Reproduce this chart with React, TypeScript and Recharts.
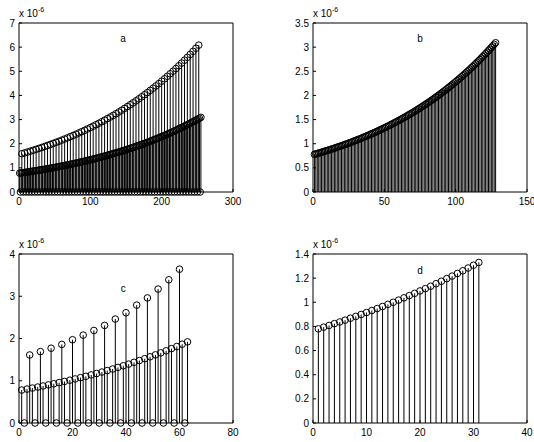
import React from 'react';
import { ScatterChart, Scatter, XAxis, YAxis, ErrorBar, ReferenceDot } from 'recharts';

const FONT = '"Liberation Sans", Arial, Helvetica, sans-serif';

// values are in units of 1e-6
const B_VALUES = [
  0.780, 0.789, 0.797, 0.806, 0.815, 0.824, 0.832, 0.842, 0.851, 0.860,
  0.869, 0.879, 0.888, 0.898, 0.908, 0.918, 0.928, 0.938, 0.948, 0.958,
  0.969, 0.980, 0.990, 1.001, 1.012, 1.023, 1.034, 1.045, 1.057, 1.068,
  1.080, 1.092, 1.104, 1.116, 1.128, 1.140, 1.153, 1.165, 1.178, 1.191,
  1.204, 1.217, 1.230, 1.243, 1.257, 1.271, 1.285, 1.299, 1.313, 1.327,
  1.341, 1.356, 1.371, 1.386, 1.401, 1.416, 1.432, 1.447, 1.463, 1.479,
  1.495, 1.511, 1.528, 1.544, 1.561, 1.578, 1.596, 1.613, 1.631, 1.648,
  1.666, 1.684, 1.703, 1.721, 1.740, 1.759, 1.778, 1.798, 1.817, 1.837,
  1.857, 1.877, 1.898, 1.918, 1.939, 1.960, 1.982, 2.003, 2.025, 2.047,
  2.070, 2.092, 2.115, 2.138, 2.161, 2.185, 2.209, 2.233, 2.257, 2.282,
  2.307, 2.332, 2.357, 2.383, 2.409, 2.435, 2.462, 2.488, 2.516, 2.543,
  2.571, 2.599, 2.627, 2.656, 2.685, 2.714, 2.743, 2.773, 2.804, 2.834,
  2.865, 2.896, 2.928, 2.960, 2.992, 3.025, 3.058, 3.091,
];

const A_TOP = [
  1.586, 1.620, 1.656, 1.692, 1.729, 1.767, 1.806, 1.846, 1.886, 1.927,
  1.970, 2.013, 2.057, 2.102, 2.148, 2.195, 2.243, 2.293, 2.343, 2.394,
  2.447, 2.500, 2.555, 2.611, 2.668, 2.727, 2.787, 2.848, 2.910, 2.974,
  3.039, 3.106, 3.174, 3.243, 3.315, 3.387, 3.462, 3.537, 3.615, 3.694,
  3.775, 3.858, 3.943, 4.029, 4.117, 4.208, 4.300, 4.394, 4.490, 4.589,
  4.689, 4.792, 4.897, 5.005, 5.114, 5.227, 5.341, 5.458, 5.578, 5.700,
  5.825, 5.953, 6.083,
];

const C_MID = [
  0.780, 0.803, 0.827, 0.851, 0.876, 0.902, 0.928, 0.956, 0.984, 1.013,
  1.043, 1.074, 1.105, 1.138, 1.171, 1.206, 1.241, 1.278, 1.316, 1.354,
  1.394, 1.436, 1.478, 1.522, 1.567, 1.613, 1.660, 1.709, 1.760, 1.811,
  1.865, 1.920,
];

const C_TOP = [1.61, 1.69, 1.77, 1.86, 1.97, 2.08, 2.19, 2.31, 2.46, 2.61, 2.79, 2.96, 3.17, 3.39, 3.64];

const D_VALUES = [
  0.780, 0.794, 0.808, 0.823, 0.837, 0.852, 0.868, 0.883, 0.899, 0.915,
  0.932, 0.948, 0.965, 0.983, 1.000, 1.018, 1.037, 1.055, 1.074, 1.094,
  1.113, 1.133, 1.154, 1.174, 1.196, 1.217, 1.239, 1.261, 1.284, 1.307,
  1.330,
];

const A_X_TICKS = [0, 100, 200, 300];
const A_Y_TICKS = [0, 1, 2, 3, 4, 5, 6, 7];
const B_X_TICKS = [0, 50, 100, 150];
const B_Y_TICKS = [0, 0.5, 1, 1.5, 2, 2.5, 3, 3.5];
const C_X_TICKS = [0, 20, 40, 60, 80];
const C_Y_TICKS = [0, 1, 2, 3, 4];
const D_X_TICKS = [0, 10, 20, 30, 40];
const D_Y_TICKS = [0, 0.2, 0.4, 0.6, 0.8, 1, 1.2, 1.4];

type Pt = { x: number; y: number; err: [number, number] };
const stem = (x: number, y: number): Pt => ({ x, y, err: [y, 0] });

// interleaved sample positions: odd n, n = 4k, n = 4k + 2 (zeros)
const aMid = B_VALUES.map((v, i) => stem(2 * i + 1, v));
const aTop = A_TOP.map((v, i) => stem(4 * (i + 1), v));
const aZero = B_VALUES.slice(0, 64).map((_, i) => stem(4 * i + 2, 0));
const bPts = B_VALUES.map((v, i) => stem(i + 1, v));
const cMid = C_MID.map((v, i) => stem(2 * i + 1, v));
const cTop = C_TOP.map((v, i) => stem(4 * (i + 1), v));
const cZero = C_MID.slice(0, 16).map((_, i) => stem(4 * i + 2, 0));
const dPts = D_VALUES.map((v, i) => stem(i + 1, v));

const TXT = { fontSize: 10, fontFamily: FONT, fill: '#000' };

const BottomTick = (p: any) => (
  <g>
    <line x1={p.x} x2={p.x} y1={p.y - 6} y2={p.y - 9} stroke="#000" />
    <text x={p.x} y={p.y} dy="0.71em" textAnchor="middle" {...TXT}>{p.payload.value}</text>
  </g>
);
const LeftTick = (p: any) => (
  <g>
    <line x1={p.x + 4} x2={p.x + 7} y1={p.y} y2={p.y} stroke="#000" />
    <text x={p.x} y={p.y} dy="0.355em" textAnchor="end" {...TXT}>{p.payload.value}</text>
  </g>
);
const TopTick = (p: any) => <line x1={p.x} x2={p.x} y1={p.y} y2={p.y + 3} stroke="#000" />;
const RightTick = (p: any) => <line x1={p.x} x2={p.x - 3} y1={p.y} y2={p.y} stroke="#000" />;

const Ring = (p: any) => <circle cx={p.cx} cy={p.cy} r={3.3} fill="none" stroke="#000" strokeWidth={1} />;

const ExpLabel = (p: any) => (
  <text x={p.viewBox.x} y={p.viewBox.y - 6} {...TXT}>
    x 10<tspan dy={-5} fontSize={7}>-6</tspan>
  </text>
);

type PanelProps = {
  stems: Pt[][];
  zeros?: Pt[];
  xTicks: number[];
  yTicks: number[];
  title: string;
  titleAt: [number, number];
  // plot box edges inside the 267x221 cell
  box: { top: number; right: number; bottom: number; left: number };
};

function Panel({ stems, zeros, xTicks, yTicks, title, titleAt, box }: PanelProps) {
  const xDom: [number, number] = [xTicks[0], xTicks[xTicks.length - 1]];
  const yDom: [number, number] = [yTicks[0], yTicks[yTicks.length - 1]];
  const margin = { top: box.top - 1, right: box.right - 1, bottom: box.bottom - 18, left: box.left - 18 };
  return (
    <ScatterChart width={267} height={221} margin={margin}>
      <XAxis type="number" dataKey="x" domain={xDom} ticks={xTicks} interval={0} height={18}
        tickSize={0} tickMargin={6} tickLine={false} axisLine={{ stroke: '#000' }} tick={<BottomTick />} />
      <XAxis xAxisId="top" orientation="top" type="number" dataKey="x" domain={xDom} ticks={xTicks} interval={0}
        height={1} tickSize={0} tickMargin={0} tickLine={false} axisLine={{ stroke: '#000' }} tick={<TopTick />} />
      <YAxis type="number" dataKey="y" domain={yDom} ticks={yTicks} interval={0} width={18}
        tickSize={0} tickMargin={4} tickLine={false} axisLine={{ stroke: '#000' }} tick={<LeftTick />} />
      <YAxis yAxisId="right" orientation="right" type="number" dataKey="y" domain={yDom} ticks={yTicks} interval={0}
        width={1} tickSize={0} tickMargin={0} tickLine={false} axisLine={{ stroke: '#000' }} tick={<RightTick />} />
      {stems.map((pts, i) => (
        <Scatter key={i} data={pts} shape={<Ring />} isAnimationActive={false}>
          <ErrorBar dataKey="err" direction="y" width={0} stroke="#000" strokeWidth={1} isAnimationActive={false} />
        </Scatter>
      ))}
      {zeros && <Scatter data={zeros} shape={<Ring />} isAnimationActive={false} />}
      <ReferenceDot x={titleAt[0]} y={titleAt[1]} r={0} fill="none" stroke="none" ifOverflow="visible"
        label={{ value: title, position: 'center', ...TXT }} />
      <ReferenceDot x={xDom[0]} y={yDom[1]} r={0} fill="none" stroke="none" ifOverflow="visible" label={ExpLabel} />
    </ScatterChart>
  );
}

export default function App() {
  const cell = (left: number, top: number): React.CSSProperties => ({ position: 'absolute', left, top });
  return (
    <div style={{ position: 'absolute', left: 0, top: 0, width: 534, height: 442, background: '#fff', overflow: 'hidden' }}>
      <div style={cell(0, 0)}>
        <Panel stems={[aMid, aTop]} zeros={aZero} xTicks={A_X_TICKS} yTicks={A_Y_TICKS} title="a" titleAt={[146, 6.37]}
          box={{ top: 23, right: 34, bottom: 29, left: 19 }} />
      </div>
      <div style={cell(267, 0)}>
        <Panel stems={[bPts]} xTicks={B_X_TICKS} yTicks={B_Y_TICKS} title="b" titleAt={[75, 3.17]}
          box={{ top: 23, right: 7, bottom: 29, left: 46 }} />
      </div>
      <div style={cell(0, 221)}>
        <Panel stems={[cMid, cTop]} zeros={cZero} xTicks={C_X_TICKS} yTicks={C_Y_TICKS} title="c" titleAt={[39, 3.19]}
          box={{ top: 33, right: 34, bottom: 19, left: 19 }} />
      </div>
      <div style={cell(267, 221)}>
        <Panel stems={[dPts]} xTicks={D_X_TICKS} yTicks={D_Y_TICKS} title="d" titleAt={[20, 1.26]}
          box={{ top: 33, right: 7, bottom: 19, left: 46 }} />
      </div>
    </div>
  );
}
